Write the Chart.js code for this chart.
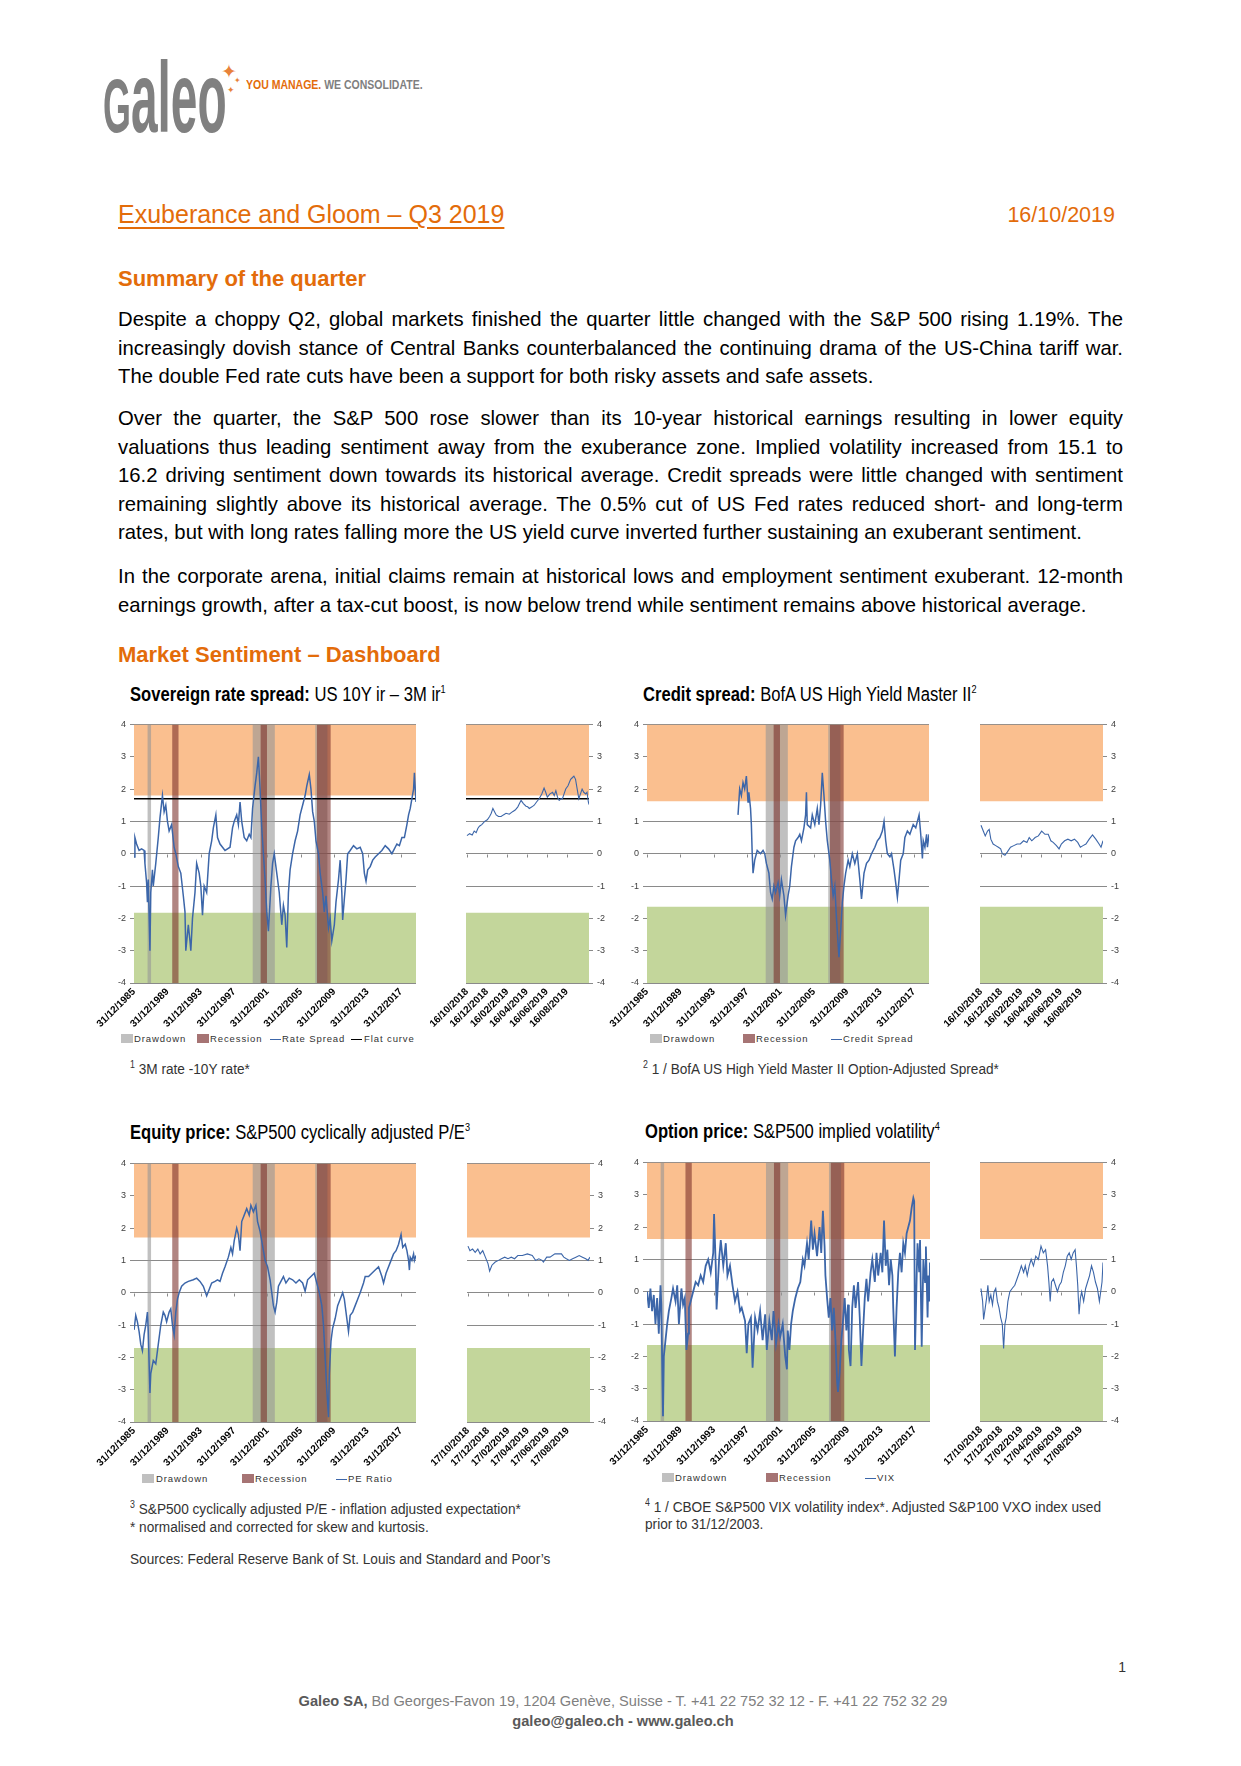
<!DOCTYPE html>
<html><head><meta charset="utf-8">
<script src="https://cdn.jsdelivr.net/npm/chart.js@4.4.1/dist/chart.umd.min.js"></script>
<style>
body{margin:0;background:#fff;}
#page{position:relative;width:1241px;height:1766px;overflow:hidden;font-family:"Liberation Sans",Arial,sans-serif;color:#000;}
.a{position:absolute;white-space:nowrap;line-height:1;}
.nar{transform-origin:0 0;}
.orange{color:#e36c0a;}
.body{position:absolute;left:118px;width:1005px;font-size:20.3px;line-height:28.5px;}
.body div{white-space:nowrap;text-align:justify;text-align-last:justify;}
.body div.last{text-align:left;text-align-last:left;}
.ct{font-size:20px;transform:scaleX(0.83);}
.ct b{font-weight:bold;}
.ct sup{font-size:11px;vertical-align:8px;line-height:0;}
.fn{font-size:15.5px;color:#333;transform:scaleX(0.88);}
.fn sup{font-size:10px;vertical-align:6px;line-height:0;}
.leg{position:absolute;font-size:9.5px;letter-spacing:0.9px;color:#333;line-height:11px;white-space:nowrap;}
.sq{position:absolute;width:12px;height:9px;top:1px;}
.ln{position:absolute;width:11px;height:1px;top:6px;}
canvas{position:absolute;}
</style></head>
<body><div id="page">

<!-- logo -->
<div class="a nar" style="left:103px;top:48px;font-size:57px;font-weight:bold;color:#808080;transform:scale(0.84,1.76);"><span style="font-size:0.75em">G</span>aleo</div>
<div class="a" style="left:221px;top:62px;font-size:19px;color:#e8823a;font-family:'DejaVu Sans';">✦</div>
<div class="a" style="left:234px;top:77px;font-size:8px;color:#e8823a;font-family:'DejaVu Sans';">✦</div>
<div class="a" style="left:227px;top:86px;font-size:9px;color:#e8823a;font-family:'DejaVu Sans';">✦</div>
<div class="a nar" style="left:246px;top:79.4px;font-size:12.5px;font-weight:bold;transform:scaleX(0.84);"><span style="color:#e36c0a">YOU MANAGE.</span><span style="color:#7f7f7f"> WE CONSOLIDATE.</span></div>

<!-- title -->
<div class="a orange" style="left:118px;top:201.5px;font-size:25px;text-decoration:underline;text-decoration-thickness:2px;text-underline-offset:4px;">Exuberance and Gloom – Q3 2019</div>
<div class="a orange" style="left:1000px;width:115px;text-align:right;top:204.5px;font-size:21.5px;">16/10/2019</div>

<div class="a orange" style="left:118px;top:268.1px;font-size:22px;font-weight:bold;">Summary of the quarter</div>

<div class="body" style="top:305px;">
<div>Despite a choppy Q2, global markets finished the quarter little changed with the S&amp;P 500 rising 1.19%. The</div>
<div>increasingly dovish stance of Central Banks counterbalanced the continuing drama of the US-China tariff war.</div>
<div class="last">The double Fed rate cuts have been a support for both risky assets and safe assets.</div>
</div>
<div class="body" style="top:404px;">
<div>Over the quarter, the S&amp;P 500 rose slower than its 10-year historical earnings resulting in lower equity</div>
<div>valuations thus leading sentiment away from the exuberance zone. Implied volatility increased from 15.1 to</div>
<div>16.2 driving sentiment down towards its historical average. Credit spreads were little changed with sentiment</div>
<div>remaining slightly above its historical average. The 0.5% cut of US Fed rates reduced short- and long-term</div>
<div class="last">rates, but with long rates falling more the US yield curve inverted further sustaining an exuberant sentiment.</div>
</div>
<div class="body" style="top:562px;">
<div>In the corporate arena, initial claims remain at historical lows and employment sentiment exuberant. 12-month</div>
<div class="last">earnings growth, after a tax-cut boost, is now below trend while sentiment remains above historical average.</div>
</div>

<div class="a orange" style="left:118px;top:644.4px;font-size:22px;font-weight:bold;">Market Sentiment – Dashboard</div>

<!-- chart titles -->
<div class="a nar ct" style="left:130px;top:683.8px;"><b>Sovereign rate spread:</b> US 10Y ir – 3M ir<sup>1</sup></div>
<div class="a nar ct" style="left:643px;top:683.8px;"><b>Credit spread:</b> BofA US High Yield Master II<sup>2</sup></div>
<div class="a nar ct" style="left:130px;top:1122.4px;"><b>Equity price:</b> S&amp;P500 cyclically adjusted P/E<sup>3</sup></div>
<div class="a nar ct" style="left:645px;top:1121.4px;"><b>Option price:</b> S&amp;P500 implied volatility<sup>4</sup></div>

<canvas id="c1" width="344" height="318" style="left:80px;top:715px;"></canvas>
<canvas id="c1s" width="199" height="318" style="left:414px;top:715px;"></canvas>
<canvas id="c2" width="344" height="318" style="left:593px;top:715px;"></canvas>
<canvas id="c2s" width="201" height="318" style="left:928px;top:715px;"></canvas>
<canvas id="c3" width="344" height="318" style="left:80px;top:1154px;"></canvas>
<canvas id="c3s" width="199" height="318" style="left:415px;top:1154px;"></canvas>
<canvas id="c4" width="345" height="318" style="left:593px;top:1153px;"></canvas>
<canvas id="c4s" width="201" height="318" style="left:928px;top:1153px;"></canvas>

<!-- legends -->
<div class="leg" style="left:134px;top:1033px;"><span class="sq" style="left:-13px;background:#c0c0c0"></span>Drawdown</div>
<div class="leg" style="left:210px;top:1033px;"><span class="sq" style="left:-13px;background:#a67474"></span>Recession</div>
<div class="leg" style="left:282px;top:1033px;"><span class="ln" style="left:-12px;background:#3c66a9"></span>Rate Spread</div>
<div class="leg" style="left:364px;top:1033px;"><span class="ln" style="left:-13px;background:#000"></span>Flat curve</div>

<div class="leg" style="left:663px;top:1033px;"><span class="sq" style="left:-13px;background:#c0c0c0"></span>Drawdown</div>
<div class="leg" style="left:756px;top:1033px;"><span class="sq" style="left:-13px;background:#a67474"></span>Recession</div>
<div class="leg" style="left:843px;top:1033px;"><span class="ln" style="left:-12px;background:#3c66a9"></span>Credit Spread</div>

<div class="leg" style="left:156px;top:1472.5px;"><span class="sq" style="left:-14px;background:#c0c0c0"></span>Drawdown</div>
<div class="leg" style="left:255px;top:1472.5px;"><span class="sq" style="left:-13px;background:#a67474"></span>Recession</div>
<div class="leg" style="left:348px;top:1472.5px;"><span class="ln" style="left:-12px;background:#3c66a9"></span>PE Ratio</div>

<div class="leg" style="left:675px;top:1471.5px;"><span class="sq" style="left:-13px;background:#c0c0c0"></span>Drawdown</div>
<div class="leg" style="left:779px;top:1471.5px;"><span class="sq" style="left:-13px;background:#a67474"></span>Recession</div>
<div class="leg" style="left:877px;top:1471.5px;"><span class="ln" style="left:-12px;background:#3c66a9"></span>VIX</div>

<!-- footnotes -->
<div class="a nar fn" style="left:130px;top:1060.9px;"><sup>1</sup> 3M rate -10Y rate*</div>
<div class="a nar fn" style="left:643px;top:1060.9px;"><sup>2</sup> 1 / BofA US High Yield Master II Option-Adjusted Spread*</div>
<div class="a nar fn" style="left:130px;top:1500.9px;"><sup>3</sup> S&amp;P500 cyclically adjusted P/E - inflation adjusted expectation*</div>
<div class="a nar fn" style="left:130px;top:1518.9px;">* normalised and corrected for skew and kurtosis.</div>
<div class="a nar fn" style="left:130px;top:1550.9px;">Sources: Federal Reserve Bank of St. Louis and Standard and Poor’s</div>
<div class="a nar fn" style="left:645px;top:1498.6px;"><sup>4</sup> 1 / CBOE S&amp;P500 VIX volatility index*. Adjusted S&amp;P100 VXO index used</div>
<div class="a nar fn" style="left:645px;top:1515.9px;">prior to 31/12/2003.</div>

<!-- footer -->
<div class="a" style="left:1100px;width:26px;text-align:right;top:1659.9px;font-size:14px;color:#333;">1</div>
<div class="a" style="left:0;width:1246px;text-align:center;top:1693.7px;font-size:14.6px;color:#808080;"><b style="color:#595959">Galeo SA,</b> Bd Georges-Favon 19, 1204 Genève, Suisse - T. +41 22 752 32 12 - F. +41 22 752 32 29</div>
<div class="a" style="left:0;width:1246px;text-align:center;top:1714.4px;font-size:14.6px;color:#595959;font-weight:bold;">galeo@galeo.ch - www.galeo.ch</div>

</div>
<script>
// ---------- data ----------
const mainTickValues = [1985.99, 1989.99, 1993.99, 1997.99, 2001.99, 2005.99, 2009.99, 2013.99, 2017.99];
const mainTickLabels = ['31/12/1985','31/12/1989','31/12/1993','31/12/1997','31/12/2001','31/12/2005','31/12/2009','31/12/2013','31/12/2017'];
const mainRange = [1985.99, 2019.79];
const recentTickValues = [0, 61, 123, 182, 243, 304];
const recentLabels16 = ['16/10/2018','16/12/2018','16/02/2019','16/04/2019','16/06/2019','16/08/2019'];
const recentLabels17 = ['17/10/2018','17/12/2018','17/02/2019','17/04/2019','17/06/2019','17/08/2019'];
const recentRange = [-3, 372];

const drawdownPeriods = [[1987.59, 1988.06], [2000.19, 2002.88], [2007.70, 2009.20]];
const recessionPeriods = [[1990.56, 1991.35], [2001.14, 2001.93], [2007.92, 2009.58]];

// thresholds: [exuberance, gloom] per indicator
const sovereignZones = [1.80, -1.83];
const creditZones = [1.62, -1.64];
const equityZones = [1.71, -1.71];
const optionZones = [1.63, -1.65];
const flatCurve = 1.70;

const sovereignSpread = [[1986.0,-0.1],[1986.1,0.5],[1986.3,0.3],[1986.6,0.1],[1986.9,0.15],[1987.2,0.1],[1987.3,-0.3],[1987.5,-0.9],[1987.6,-1.5],[1987.7,-0.8],[1987.9,-3.0],[1988.0,-1.2],[1988.2,-0.5],[1988.3,-1.0],[1988.6,-0.3],[1988.9,0.5],[1989.1,1.1],[1989.4,1.8],[1989.6,1.3],[1989.8,1.5],[1990.0,1.0],[1990.2,0.7],[1990.5,0.9],[1990.8,0.2],[1991.0,0.0],[1991.3,-0.4],[1991.6,-0.6],[1991.9,-1.3],[1992.1,-1.8],[1992.2,-3.0],[1992.5,-2.2],[1992.7,-2.7],[1992.8,-3.0],[1993.0,-2.0],[1993.3,-1.2],[1993.5,-0.3],[1993.8,-0.6],[1994.0,-1.0],[1994.2,-1.9],[1994.4,-1.0],[1994.7,-1.2],[1995.0,0.0],[1995.3,0.4],[1995.5,0.8],[1995.8,1.2],[1996.0,0.5],[1996.3,0.3],[1996.6,0.2],[1996.9,0.1],[1997.2,0.15],[1997.5,0.2],[1997.8,0.8],[1998.0,1.0],[1998.3,1.2],[1998.5,0.9],[1998.7,1.6],[1998.9,1.0],[1999.2,0.5],[1999.5,0.4],[1999.8,0.6],[2000.0,0.5],[2000.2,1.4],[2000.5,2.1],[2000.7,2.5],[2000.9,3.0],[2001.1,2.0],[2001.3,0.8],[2001.5,0.0],[2001.7,-0.8],[2001.9,-1.8],[2002.1,-2.4],[2002.4,-1.0],[2002.6,-0.3],[2002.8,0.0],[2003.1,-0.6],[2003.4,-1.2],[2003.7,-2.2],[2003.9,-1.6],[2004.1,-1.9],[2004.3,-2.9],[2004.5,-1.2],[2004.7,-0.5],[2005.0,0.0],[2005.3,0.4],[2005.6,0.7],[2005.9,1.2],[2006.2,1.5],[2006.5,1.8],[2006.7,2.1],[2007.0,2.45],[2007.2,2.0],[2007.4,1.3],[2007.6,1.0],[2007.8,0.4],[2008.1,0.0],[2008.3,-0.6],[2008.6,-1.2],[2008.8,-1.8],[2009.0,-1.3],[2009.3,-2.3],[2009.5,-2.0],[2009.7,-2.7],[2010.0,-2.2],[2010.2,-1.5],[2010.5,-0.8],[2010.7,-0.2],[2010.9,-1.2],[2011.0,-2.05],[2011.2,-1.4],[2011.4,-0.8],[2011.6,0.0],[2011.9,0.1],[2012.3,0.25],[2012.7,0.15],[2013.1,0.2],[2013.4,0.0],[2013.6,-0.6],[2013.8,-0.85],[2014.0,-0.5],[2014.3,-0.4],[2014.6,-0.2],[2014.9,-0.1],[2015.3,0.0],[2015.7,0.1],[2016.1,0.25],[2016.5,0.15],[2016.9,0.0],[2017.2,0.15],[2017.5,0.3],[2017.8,0.25],[2018.1,0.5],[2018.4,0.5],[2018.7,0.9],[2018.9,1.2],[2019.1,1.4],[2019.3,1.7],[2019.5,2.0],[2019.6,2.5],[2019.7,2.0],[2019.79,1.6]];
const sovereignRecent = [[0,0.56],[8,0.62],[16,0.58],[22,0.7],[28,0.65],[33,0.78],[38,0.85],[45,0.9],[54,1.0],[62,1.05],[69,1.15],[74,1.25],[79,1.4],[84,1.3],[89,1.2],[96,1.15],[104,1.15],[111,1.2],[119,1.25],[129,1.22],[139,1.3],[147,1.35],[155,1.45],[160,1.55],[165,1.65],[172,1.55],[180,1.47],[185,1.45],[190,1.4],[198,1.45],[205,1.5],[212,1.6],[220,1.7],[228,1.85],[235,2.03],[240,1.9],[245,1.75],[253,1.85],[261,1.9],[266,1.8],[271,1.95],[276,1.75],[281,1.65],[286,1.7],[291,1.7],[296,1.85],[301,2.0],[308,2.1],[316,2.3],[321,2.35],[326,2.4],[331,2.3],[336,2.0],[341,1.7],[346,1.85],[351,2.0],[356,1.9],[362,1.85],[366,1.9],[370,1.6],[372,1.52]];

const creditSpread = [[1996.9,1.2],[1997.1,2.0],[1997.3,1.8],[1997.5,2.2],[1997.7,2.0],[1997.9,2.4],[1998.1,1.6],[1998.2,1.9],[1998.4,1.4],[1998.5,0.9],[1998.6,0.0],[1998.7,-0.6],[1998.9,-0.2],[1999.2,0.1],[1999.6,0.0],[1999.9,0.1],[2000.1,0.0],[2000.3,-0.3],[2000.6,-0.6],[2000.8,-1.2],[2001.0,-1.4],[2001.2,-1.0],[2001.4,-1.2],[2001.7,-0.9],[2001.9,-1.3],[2002.1,-0.8],[2002.4,-1.3],[2002.6,-1.9],[2002.9,-1.3],[2003.1,-1.0],[2003.3,-0.4],[2003.6,0.2],[2003.8,0.4],[2004.1,0.5],[2004.3,0.6],[2004.5,0.4],[2004.8,0.8],[2005.0,1.2],[2005.1,1.9],[2005.2,0.9],[2005.6,0.8],[2005.8,1.2],[2006.1,0.9],[2006.4,1.4],[2006.6,0.9],[2006.8,1.5],[2007.0,2.5],[2007.2,1.8],[2007.4,1.0],[2007.6,0.4],[2007.9,-0.2],[2008.1,-0.8],[2008.3,-1.3],[2008.5,-1.0],[2008.7,-2.0],[2008.9,-2.8],[2009.0,-3.2],[2009.2,-2.4],[2009.4,-1.5],[2009.6,-1.0],[2009.8,-0.6],[2010.1,-0.2],[2010.3,-0.4],[2010.6,0.0],[2010.9,-0.3],[2011.2,0.0],[2011.5,-0.8],[2011.7,-1.4],[2012.0,-0.6],[2012.3,-0.3],[2012.6,-0.2],[2012.9,0.0],[2013.3,0.2],[2013.6,0.4],[2013.9,0.5],[2014.2,0.7],[2014.4,1.0],[2014.6,0.4],[2014.8,0.0],[2015.1,-0.1],[2015.3,0.0],[2015.6,-0.5],[2015.8,-0.9],[2016.0,-1.35],[2016.2,-0.8],[2016.4,-0.2],[2016.7,0.0],[2016.9,0.5],[2017.2,0.7],[2017.5,0.6],[2017.9,0.9],[2018.2,0.8],[2018.4,1.0],[2018.6,1.2],[2018.8,0.6],[2019.0,-0.15],[2019.1,0.4],[2019.3,0.2],[2019.5,0.6],[2019.6,0.2],[2019.79,0.6]];
const creditRecent = [[0,0.88],[7,0.7],[13,0.55],[20,0.7],[25,0.75],[30,0.45],[37,0.3],[45,0.25],[53,0.2],[60,0.15],[65,0.0],[73,-0.05],[80,0.05],[90,0.2],[100,0.25],[110,0.3],[120,0.3],[130,0.4],[140,0.35],[147,0.5],[155,0.4],[165,0.5],[175,0.55],[185,0.7],[195,0.6],[205,0.6],[213,0.4],[220,0.35],[230,0.25],[238,0.15],[245,0.3],[255,0.4],[265,0.45],[275,0.4],[285,0.45],[295,0.35],[303,0.2],[311,0.25],[320,0.3],[330,0.45],[340,0.58],[350,0.45],[360,0.3],[366,0.2],[372,0.4]];

const peRatio = [[1986.0,-1.15],[1986.2,-0.7],[1986.4,-0.9],[1986.6,-1.2],[1986.8,-1.6],[1987.0,-1.8],[1987.2,-1.3],[1987.4,-1.0],[1987.6,-0.6],[1987.7,-1.2],[1987.9,-3.1],[1988.0,-2.5],[1988.3,-2.1],[1988.6,-2.2],[1988.9,-1.6],[1989.2,-1.0],[1989.5,-0.6],[1989.7,-0.7],[1989.9,-0.9],[1990.2,-0.6],[1990.4,-0.5],[1990.6,-1.0],[1990.8,-1.3],[1991.0,-0.6],[1991.2,-0.2],[1991.4,0.0],[1991.7,0.2],[1992.1,0.3],[1992.5,0.35],[1993.1,0.4],[1993.5,0.45],[1993.9,0.35],[1994.3,0.2],[1994.7,-0.1],[1995.0,0.1],[1995.3,0.3],[1995.7,0.35],[1996.0,0.4],[1996.3,0.35],[1996.6,0.6],[1996.9,0.8],[1997.3,1.1],[1997.6,1.4],[1997.8,1.2],[1998.0,1.6],[1998.3,2.0],[1998.5,1.8],[1998.7,1.3],[1998.9,2.2],[1999.2,2.4],[1999.5,2.6],[1999.8,2.4],[2000.0,2.7],[2000.3,2.5],[2000.6,2.7],[2000.8,2.2],[2001.1,1.9],[2001.3,1.6],[2001.5,1.3],[2001.7,1.0],[2002.0,0.8],[2002.3,0.4],[2002.5,0.0],[2002.7,-0.4],[2002.9,-0.6],[2003.1,-0.3],[2003.3,0.2],[2003.6,0.35],[2003.9,0.5],[2004.2,0.3],[2004.6,0.45],[2005.0,0.4],[2005.4,0.3],[2005.8,0.4],[2006.2,0.3],[2006.5,0.05],[2006.8,0.4],[2007.2,0.5],[2007.6,0.6],[2007.9,0.3],[2008.2,0.0],[2008.5,-0.4],[2008.7,-1.0],[2008.9,-2.0],[2009.1,-3.0],[2009.3,-3.85],[2009.4,-2.5],[2009.6,-1.5],[2009.8,-1.1],[2010.1,-0.8],[2010.4,-0.4],[2010.7,-0.2],[2011.0,0.0],[2011.2,-0.2],[2011.5,-0.8],[2011.7,-1.2],[2011.9,-0.7],[2012.2,-0.6],[2012.5,-0.4],[2012.8,-0.2],[2013.1,0.0],[2013.5,0.3],[2013.7,0.5],[2014.1,0.5],[2014.5,0.6],[2014.9,0.7],[2015.3,0.8],[2015.7,0.5],[2015.9,0.3],[2016.2,0.6],[2016.5,0.8],[2016.8,1.0],[2017.1,1.2],[2017.4,1.3],[2017.7,1.5],[2018.0,1.8],[2018.2,1.4],[2018.5,1.5],[2018.7,1.3],[2018.9,1.0],[2019.0,0.7],[2019.1,1.1],[2019.3,1.0],[2019.5,1.2],[2019.6,1.0],[2019.79,1.15]];
const peRecent = [[0,1.44],[6,1.3],[14,1.35],[22,1.25],[30,1.35],[37,1.2],[45,1.3],[53,1.1],[61,0.9],[66,0.67],[73,0.85],[83,0.95],[93,1.0],[102,1.05],[112,1.1],[122,1.05],[132,1.1],[142,1.05],[152,1.15],[166,1.15],[181,1.2],[196,1.15],[206,1.0],[216,1.05],[226,1.0],[230,0.95],[240,1.1],[250,1.1],[265,1.2],[275,1.2],[285,1.2],[292,1.1],[300,1.05],[309,1.0],[319,1.05],[329,1.1],[339,1.15],[349,1.1],[359,1.05],[366,1.0],[372,1.1]];

const vixIndex = [[1986.0,0.0],[1986.2,-0.5],[1986.4,0.1],[1986.6,-0.6],[1986.8,-0.1],[1987.0,-1.0],[1987.2,-0.2],[1987.4,-1.3],[1987.6,0.2],[1987.7,-0.4],[1987.9,-3.85],[1988.0,-2.0],[1988.2,-1.5],[1988.4,-1.0],[1988.6,-0.6],[1988.9,-0.2],[1989.1,0.1],[1989.4,-0.3],[1989.6,0.2],[1989.8,-1.0],[1990.1,0.1],[1990.3,-0.4],[1990.5,-0.2],[1990.7,-1.8],[1990.9,-1.3],[1991.0,-0.5],[1991.3,-0.2],[1991.5,0.0],[1991.8,0.3],[1992.1,0.2],[1992.4,0.5],[1992.7,0.3],[1993.0,0.8],[1993.3,1.0],[1993.6,0.6],[1993.9,1.2],[1994.0,2.4],[1994.2,0.8],[1994.3,-0.55],[1994.6,1.0],[1994.8,1.6],[1995.1,0.8],[1995.4,1.5],[1995.6,0.5],[1995.9,0.8],[1996.2,0.2],[1996.5,-0.3],[1996.8,0.0],[1997.1,-0.6],[1997.3,-0.5],[1997.7,-0.9],[1997.9,-1.9],[1998.1,-1.0],[1998.4,-0.8],[1998.6,-2.35],[1998.9,-0.8],[1999.2,-1.2],[1999.5,-0.6],[1999.8,-1.5],[2000.1,-0.7],[2000.3,-1.8],[2000.6,-0.9],[2000.9,-1.5],[2001.1,-0.6],[2001.4,-1.6],[2001.7,-1.0],[2001.9,-1.4],[2002.2,-1.0],[2002.5,-2.0],[2002.7,-2.4],[2002.8,-1.2],[2003.0,-1.8],[2003.2,-1.0],[2003.4,-0.6],[2003.7,-0.2],[2004.0,0.1],[2004.3,0.3],[2004.6,1.0],[2004.8,0.8],[2005.1,1.5],[2005.3,1.0],[2005.6,2.2],[2005.8,1.3],[2006.0,1.8],[2006.3,1.1],[2006.6,2.0],[2006.8,1.2],[2007.0,2.5],[2007.2,1.4],[2007.3,0.5],[2007.5,-0.2],[2007.7,-0.8],[2007.9,-0.2],[2008.1,-1.2],[2008.3,-0.5],[2008.5,-1.5],[2008.7,-2.8],[2008.8,-3.1],[2009.0,-2.5],[2009.2,-1.5],[2009.4,-0.9],[2009.6,-0.2],[2009.8,-1.2],[2010.0,-0.4],[2010.1,-1.8],[2010.3,-2.3],[2010.5,-0.5],[2010.7,0.2],[2010.9,-0.5],[2011.2,0.3],[2011.4,-0.8],[2011.6,-2.3],[2011.8,-1.2],[2012.0,-0.2],[2012.2,0.4],[2012.4,-0.3],[2012.7,0.6],[2012.9,1.0],[2013.2,0.3],[2013.4,1.2],[2013.6,0.5],[2013.9,1.2],[2014.1,0.6],[2014.3,2.2],[2014.5,0.8],[2014.7,1.3],[2014.9,0.2],[2015.1,1.0],[2015.3,0.5],[2015.4,-0.5],[2015.6,-2.0],[2015.8,-0.5],[2016.0,0.6],[2016.2,1.2],[2016.4,0.6],[2016.6,1.5],[2016.8,1.2],[2017.0,1.8],[2017.2,2.0],[2017.4,2.2],[2017.6,2.6],[2017.8,2.9],[2017.9,2.8],[2018.0,-1.8],[2018.2,0.5],[2018.3,1.5],[2018.5,0.6],[2018.6,1.6],[2018.8,-1.7],[2018.9,-0.3],[2019.0,1.0],[2019.2,0.3],[2019.3,1.4],[2019.5,-0.8],[2019.6,0.5],[2019.7,-0.3],[2019.79,0.9]];
const vixRecent = [[0,0.1],[5,-0.3],[8,-0.86],[13,-0.5],[17,-0.2],[21,0.2],[25,-0.3],[30,-0.1],[35,-0.4],[40,0.0],[45,0.1],[50,-0.3],[55,-0.5],[60,-0.8],[65,-1.0],[69,-1.76],[73,-1.0],[77,-0.8],[82,-0.3],[88,0.0],[95,0.1],[103,0.2],[110,0.4],[117,0.6],[123,0.8],[130,0.6],[135,0.8],[141,0.5],[147,0.8],[153,1.0],[160,0.8],[167,1.1],[175,1.0],[183,1.41],[190,1.2],[197,1.3],[203,0.8],[207,0.3],[211,-0.3],[215,0.3],[221,0.4],[227,0.2],[233,0.0],[239,0.2],[245,0.3],[251,0.6],[257,0.8],[263,1.1],[269,1.2],[275,1.0],[281,1.2],[287,1.3],[291,0.8],[295,0.2],[299,-0.7],[303,-0.2],[307,0.0],[313,-0.3],[319,0.1],[325,0.3],[331,0.5],[337,0.8],[343,0.6],[349,0.3],[355,0.1],[361,-0.3],[365,0.0],[369,0.3],[372,0.9]];

// ---------- styling ----------
const ORANGE = '#fabf8f', GREEN = '#c3d69b';
const DD = 'rgba(150,150,150,0.6)', REC = 'rgba(120,45,40,0.58)';
const BLUE = '#3c66a9';

// small tick marks hanging from the zero line at each x tick (Excel category-axis style)
const zeroTicks = {
  id:'zeroTicks',
  beforeDatasetsDraw(chart) {
    const {ctx, scales:{x, y}} = chart;
    const y0 = Math.round(y.getPixelForValue(0)) + 0.5;
    ctx.save();
    ctx.strokeStyle = '#8a8a8a'; ctx.lineWidth = 1;
    x.ticks.forEach(t => {
      const px = Math.round(x.getPixelForValue(t.value)) + 0.5;
      ctx.beginPath(); ctx.moveTo(px, y0); ctx.lineTo(px, y0 + 3); ctx.stroke();
    });
    ctx.restore();
  }
};

function band(range, top, fillTo, color, order) {
  return {data:[{x:range[0],y:top},{x:range[1],y:top}], fill:fillTo, backgroundColor:color,
          borderColor:'rgba(0,0,0,0)', borderWidth:0, pointRadius:0, order:order};
}

function build(id, o) {
  const r = o.range;
  const ds = [];
  ds.push(band(r, 4, {value:o.zones[0]}, ORANGE, 10));
  ds.push(band(r, o.zones[1], 'start', GREEN, 9));
  (o.periods ? drawdownPeriods : []).forEach(p => {
    if (p[1] > o.from) ds.push(band([Math.max(p[0], o.from), p[1]], 4, 'start', DD, 8));
  });
  (o.periods ? recessionPeriods : []).forEach(p => {
    if (p[1] > o.from) ds.push(band([Math.max(p[0], o.from), p[1]], 4, 'start', REC, 7));
  });
  if (o.flat != null) ds.push({data:[{x:r[0],y:o.flat},{x:r[1],y:o.flat}], borderColor:'#000', borderWidth:1.5, pointRadius:0, fill:false, order:2});
  ds.push({data:o.series.map(p => ({x:p[0], y:p[1]})), borderColor:BLUE, borderWidth:o.lw, pointRadius:0, fill:false, tension:0, order:1});

  new Chart(document.getElementById(id), {
    type:'line',
    data:{datasets:ds},
    plugins:[zeroTicks],
    options:{
      responsive:false, animation:false, devicePixelRatio:1,
      layout:{padding:{left:o.padL, right:o.padR, top:8, bottom:0}},
      plugins:{legend:{display:false}, tooltip:{enabled:false}},
      scales:{
        x:{type:'linear', min:r[0], max:r[1],
           grid:{display:false, drawTicks:false}, border:{display:false},
           afterBuildTicks: s => { s.ticks = o.ticks.map(v => ({value:v})); },
           ticks:{autoSkip:false, minRotation:45, maxRotation:45, padding:3, color:'#000',
                  font:{family:'Liberation Sans', size:10, weight:'bold'},
                  callback:(v, i) => o.labels[i]},
           afterFit: s => { s.height = 50; }},
        y:{position:o.yPos, min:-4, max:4,
           ticks:{stepSize:1, padding:4, color:'#404040', font:{family:'Liberation Sans', size:9}},
           grid:{color:'#8a8a8a', lineWidth:1, tickLength:4, drawTicks:true},
           border:{display:false},
           afterFit: s => { s.width = 20; }}
      }
    }
  });
}

const mainOpts = {range:mainRange, ticks:mainTickValues, labels:mainTickLabels, yPos:'left', padL:34, padR:8, periods:true, lw:1.5};
const recentOpts = {range:recentRange, ticks:recentTickValues, yPos:'right', padL:52, padR:4, periods:false, from:-99, lw:1.1};

build('c1', Object.assign({}, mainOpts, {series:sovereignSpread, zones:sovereignZones, flat:flatCurve, from:1900}));
build('c1s', Object.assign({}, recentOpts, {labels:recentLabels16, series:sovereignRecent, zones:sovereignZones, flat:flatCurve}));
build('c2', Object.assign({}, mainOpts, {series:creditSpread, zones:creditZones, from:creditSpread[0][0]}));
build('c2s', Object.assign({}, recentOpts, {labels:recentLabels16, series:creditRecent, zones:creditZones, padR:6}));
build('c3', Object.assign({}, mainOpts, {series:peRatio, zones:equityZones, from:1900}));
build('c3s', Object.assign({}, recentOpts, {labels:recentLabels17, series:peRecent, zones:equityZones}));
build('c4', Object.assign({}, mainOpts, {series:vixIndex, zones:optionZones, from:1900, lw:1.8}));
build('c4s', Object.assign({}, recentOpts, {labels:recentLabels17, series:vixRecent, zones:optionZones, padR:6}));
</script>
</body></html>
